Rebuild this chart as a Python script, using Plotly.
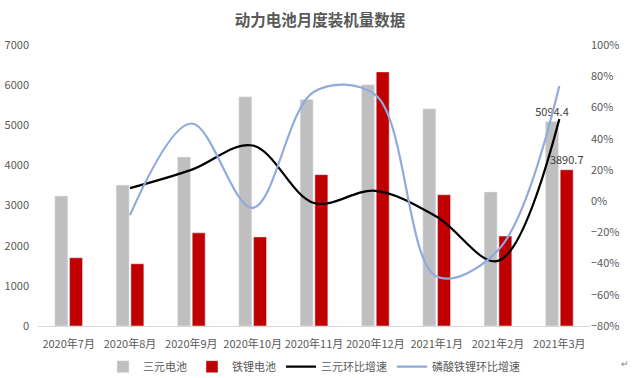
import plotly.graph_objects as go

months = ["2020年7月", "2020年8月", "2020年9月", "2020年10月", "2020年11月",
          "2020年12月", "2021年1月", "2021年2月", "2021年3月"]
ternary = [3240, 3510, 4210, 5710, 5640, 6010, 5410, 3340, 5094.4]
lfp = [1700, 1550, 2320, 2220, 3770, 6330, 3270, 2240, 3890.7]
ternary_mom = [None, 0.083, 0.20, 0.356, -0.012, 0.066, -0.10, -0.383, 0.525]
lfp_mom = [None, -0.09, 0.497, -0.043, 0.70, 0.68, -0.483, -0.315, 0.737]

ternary_text = [""] * 8 + ["5094.4"]
lfp_text = [""] * 8 + ["3890.7"]

font_family = "Noto Sans CJK SC"
txt = "#595959"

fig = go.Figure()
fig.add_trace(go.Bar(x=months, y=ternary, name="三元电池", marker_color="#BFBFBF",
                     text=ternary_text, textposition="outside", cliponaxis=False,
                     constraintext="none",
                     textfont=dict(color="#404040", size=11)))
fig.add_trace(go.Bar(x=months, y=lfp, name="铁锂电池", marker_color="#C00000",
                     text=lfp_text, textposition="outside", cliponaxis=False,
                     constraintext="none",
                     textfont=dict(color="#404040", size=11)))
fig.add_trace(go.Scatter(x=months, y=ternary_mom, name="三元环比增速", yaxis="y2",
                         mode="lines", line=dict(color="#000000", width=2.2, shape="spline")))
fig.add_trace(go.Scatter(x=months, y=lfp_mom, name="磷酸铁锂环比增速", yaxis="y2",
                         mode="lines", line=dict(color="#8FAADC", width=2.2, shape="spline")))

fig.update_layout(
    width=640, height=378,
    margin=dict(l=38, r=50, t=45, b=52, autoexpand=False),
    paper_bgcolor="white", plot_bgcolor="white",
    font=dict(family=font_family, size=11, color=txt),
    title=dict(text="<b>动力电池月度装机量数据</b>", x=0.5, xanchor="center",
               y=0.945, yanchor="middle", font=dict(size=15.5, color=txt)),
    barmode="group", bargap=0.52, bargroupgap=0.12,
    showlegend=True,
    legend=dict(orientation="h", x=0.5, xanchor="center", yref="container",
                y=0.03, yanchor="middle",
                font=dict(size=11, color=txt), itemwidth=30),
    xaxis=dict(showline=True, linecolor="#D9D9D9", linewidth=1, ticks="",
               ticklabelstandoff=8,
               tickfont=dict(size=11, color=txt), showgrid=False),
    yaxis=dict(range=[0, 7000], dtick=1000, showgrid=False, zeroline=False,
               showline=False, ticklabelstandoff=8, tickfont=dict(size=11, color=txt)),
    yaxis2=dict(range=[-0.8, 1.0], dtick=0.2, tickformat=".0%", overlaying="y",
                side="right", showgrid=False, zeroline=False, showline=False,
                tickfont=dict(size=11, color=txt)),
    annotations=[dict(text="↵", xref="paper", yref="paper", x=1.075, y=-0.165,
                      showarrow=False, font=dict(size=9, color="#7F7F7F"))],
)

fig.write_html("out.html")
